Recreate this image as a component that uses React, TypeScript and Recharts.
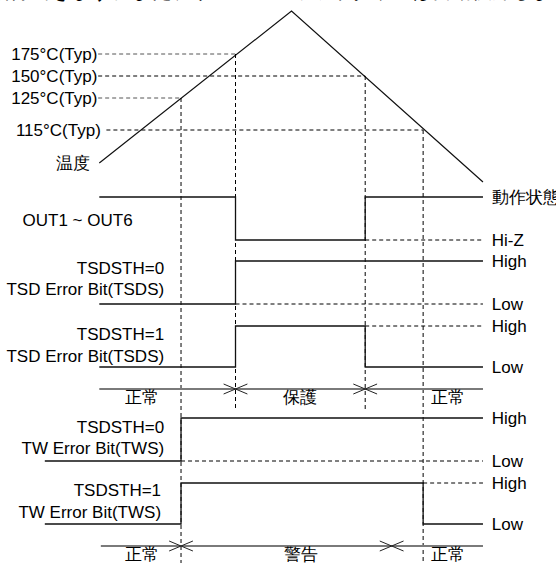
import { ComposedChart, Line, ReferenceDot, XAxis, YAxis } from "recharts";

// time axis in arbitrary units: 0 = left end of the waveforms, 100 = right end
const T_START = 0;
const T_END = 100;
const TW_START = -14.2;
const T_125 = 21.3;
const T_175 = 35.5;
const T_PEAK = 50.1;
const T_150 = 69.3;
const T_115 = 84.4;

// temperature ramp (diagram height, measured down from the top)
const TEMP_TIMES = [T_START, T_PEAK, T_END];
const TEMP_LEVELS = [163, 11, 182];

const THRESHOLD_LABELS = ["175°C(Typ)", "150°C(Typ)", "125°C(Typ)", "115°C(Typ)"];
const THRESHOLD_LEVELS = [54, 76, 98, 130];
const THRESHOLD_TIMES = [T_175, T_150, T_125, T_115];
const THRESHOLD_GREY = [true, false, true, false];
const THRESHOLD_BOTTOMS = [411, 411, 563, 563];

// digital signals
const SIGNAL_NAMES = [
  ["OUT1 ~ OUT6"],
  ["TSDSTH=0", "TSD Error Bit(TSDS)"],
  ["TSDSTH=1", "TSD Error Bit(TSDS)"],
  ["TSDSTH=0", "TW Error Bit(TWS)"],
  ["TSDSTH=1", "TW Error Bit(TWS)"],
];
const SIGNAL_LEVEL_NAMES = [
  ["動作状態", "Hi-Z"],
  ["High", "Low"],
  ["High", "Low"],
  ["High", "Low"],
  ["High", "Low"],
];
const SIGNAL_STARTS = [T_START, T_START, T_START, TW_START, TW_START];
const SIGNAL_INITIAL = [1, 0, 0, 0, 0];
const SIGNAL_EDGES = [[T_175, T_150], [T_175], [T_175, T_150], [T_125], [T_125, T_115]];
const SIGNAL_HIGH = [197, 261, 326, 418, 483];
const SIGNAL_LOW = [240, 304, 367, 461, 524];

// state bars
const PHASE_LEVELS = [389, 546];
const PHASE_STARTS = [T_START, 0.4];
const PHASE_EDGES = [[T_175, T_150], [T_125, 76.2]];
const PHASE_NAMES = [
  ["正常", "保護", "正常"],
  ["正常", "警告", "正常"],
];
const PHASE_NAME_TIMES = [
  [11, 52.3, 90.8],
  [11, 52.6, 90.8],
];

// ---- layout ----
const W = 556;
const H = 563;
const X_DOMAIN = [-25.88, 119.03];
const FONT = "'Liberation Sans', Arial, sans-serif";
const FS = 17;
const INK = "#000";
const GREY = "#7a7a7a";
const DASH = "4 3";
const CROSS_DT = 3.1;
const CROSS_DY = 5;
const RIGHT_LABEL_T = 102.3;
const ROW_LABEL_T = [16.9, 16.9, 16.9, 16.9, 16.1];
const ROW_LABEL_Y = [[220], [268, 289], [334, 356], [427, 448], [490, 512]];
const OUT_LABEL_T = -20;
const THRESHOLD_LABEL_T = [-0.5, -0.5, -0.5, 0.4];
const THRESHOLD_DASH_T = [-0.3, -0.3, -0.3, 1.85];
const PHASE_LABEL_DY = 8;

type Pt = { t: number; y: number };

function waveform(start: number, end: number, initial: number, edges: number[], high: number, low: number): Pt[] {
  const level = (s: number) => (s ? high : low);
  let s = initial;
  const pts: Pt[] = [{ t: start, y: level(s) }];
  edges.forEach((e) => {
    pts.push({ t: e, y: level(s) });
    s = 1 - s;
    pts.push({ t: e, y: level(s) });
  });
  pts.push({ t: end, y: level(s) });
  return pts;
}

function tag(key: string, t: number, y: number, text: string, position: "left" | "right" | "center", size = FS) {
  return (
    <ReferenceDot
      key={key}
      x={t}
      y={y}
      r={0}
      fill="none"
      stroke="none"
      ifOverflow="visible"
      label={{ value: text, position, offset: 0, fill: INK, fontSize: size, fontFamily: FONT }}
    />
  );
}

function seg(key: string, data: Pt[], stroke: string, width: number, dash?: string) {
  return (
    <Line
      key={key}
      data={data}
      dataKey="y"
      type="linear"
      stroke={stroke}
      strokeWidth={width}
      strokeDasharray={dash}
      dot={false}
      activeDot={false}
      legendType="none"
      isAnimationActive={false}
    />
  );
}

export default function App() {
  const temp = TEMP_TIMES.map((t, i) => ({ t, y: TEMP_LEVELS[i] }));

  const lines: JSX.Element[] = [];

  THRESHOLD_LEVELS.forEach((lvl, i) => {
    const t = THRESHOLD_TIMES[i];
    const color = THRESHOLD_GREY[i] ? "#555" : INK;
    lines.push(seg(`th-h-${i}`, [{ t: THRESHOLD_DASH_T[i], y: lvl }, { t, y: lvl }], color, 1, DASH));
    lines.push(seg(`th-v-${i}`, [{ t, y: lvl }, { t, y: THRESHOLD_BOTTOMS[i] }], INK, 1, DASH));
  });

  SIGNAL_HIGH.forEach((hi, i) => {
    const lo = SIGNAL_LOW[i];
    const edges = SIGNAL_EDGES[i];
    lines.push(seg(`sig-${i}`, waveform(SIGNAL_STARTS[i], T_END, SIGNAL_INITIAL[i], edges, hi, lo), "#111", 1.3));
    const last = edges[edges.length - 1];
    const finalState = (SIGNAL_INITIAL[i] + edges.length) % 2;
    const other = finalState ? lo : hi;
    lines.push(seg(`sig-d-${i}`, [{ t: last, y: other }, { t: T_END, y: other }], INK, 1, DASH));
  });

  PHASE_LEVELS.forEach((lvl, i) => {
    lines.push(seg(`ph-${i}`, [{ t: PHASE_STARTS[i], y: lvl }, { t: T_END, y: lvl }], GREY, 2));
    PHASE_EDGES[i].forEach((e, j) => {
      lines.push(seg(`x1-${i}-${j}`, [{ t: e - CROSS_DT, y: lvl - CROSS_DY }, { t: e + CROSS_DT, y: lvl + CROSS_DY }], "#222", 1));
      lines.push(seg(`x2-${i}-${j}`, [{ t: e - CROSS_DT, y: lvl + CROSS_DY }, { t: e + CROSS_DT, y: lvl - CROSS_DY }], "#222", 1));
    });
  });

  const labels: JSX.Element[] = [];
  labels.push(tag("top", -28, -9, "解除できます。また、サーマルシャットダウンは自動復帰します。", "right", 20));
  THRESHOLD_LABELS.forEach((txt, i) => labels.push(tag(`thl-${i}`, THRESHOLD_LABEL_T[i], THRESHOLD_LEVELS[i], txt, "left")));
  labels.push(tag("temp", -2.3, TEMP_LEVELS[0], "温度", "left"));

  SIGNAL_NAMES.forEach((names, i) => {
    names.forEach((n, j) => {
      if (i === 0) labels.push(tag(`rn-${i}-${j}`, OUT_LABEL_T, ROW_LABEL_Y[i][j], n, "right"));
      else labels.push(tag(`rn-${i}-${j}`, ROW_LABEL_T[i], ROW_LABEL_Y[i][j], n, "left"));
    });
    labels.push(tag(`lh-${i}`, RIGHT_LABEL_T, SIGNAL_HIGH[i], SIGNAL_LEVEL_NAMES[i][0], "right"));
    labels.push(tag(`ll-${i}`, RIGHT_LABEL_T, SIGNAL_LOW[i], SIGNAL_LEVEL_NAMES[i][1], "right"));
  });

  PHASE_NAMES.forEach((names, i) => {
    names.forEach((n, j) =>
      labels.push(tag(`pn-${i}-${j}`, PHASE_NAME_TIMES[i][j], PHASE_LEVELS[i] + PHASE_LABEL_DY, n, "center"))
    );
  });

  return (
    <div style={{ position: "absolute", left: 0, top: 0, width: W, height: H, background: "#fff" }}>
      <ComposedChart width={W} height={H} margin={{ top: 0, right: 0, bottom: 0, left: 0 }}>
        <XAxis type="number" dataKey="t" domain={X_DOMAIN} allowDataOverflow hide />
        <YAxis type="number" domain={[0, H]} reversed allowDataOverflow hide />
        {seg("temp", temp, "#111", 1.2)}
        {lines}
        {labels}
      </ComposedChart>
    </div>
  );
}
